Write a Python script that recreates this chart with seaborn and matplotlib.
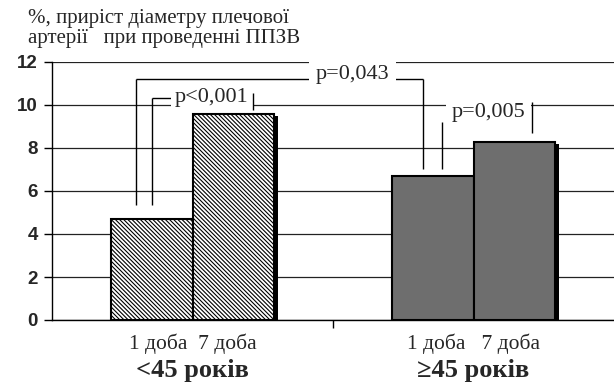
import matplotlib
matplotlib.use("Agg")
import matplotlib.pyplot as plt
import matplotlib.patheffects as pe
from matplotlib.transforms import blended_transform_factory
import pandas as pd
import seaborn as sns

# --- data ---
groups = ["<45 років", "≥45 років"]
days = ["1 доба", "7 доба"]
values_young = [4.7, 9.6]
values_old = [6.7, 8.3]
day_labels = ["1 доба  7 доба", "1 доба   7 доба"]
y_ticks = [0, 2, 4, 6, 8, 10, 12]
title_text = "%, приріст діаметру плечової\nартерії   при проведенні ППЗВ"
p_labels = ["p<0,001", "p=0,043", "p=0,005"]

df = pd.DataFrame({
    "group": [groups[0]] * 2 + [groups[1]] * 2,
    "day": days * 2,
    "value": values_young + values_old,
})

sns.set_theme(style="ticks")
plt.rcParams["font.family"] = ["Liberation Serif", "DejaVu Serif"]
plt.rcParams["hatch.linewidth"] = 0.8

fig = plt.figure(figsize=(6.14, 3.83), dpi=100)
ax = fig.add_axes([52 / 614, 1 - 320 / 383, 1 - 52 / 614, (320 - 62) / 383])

sns.barplot(data=df, x="group", y="value", hue="day", width=0.577,
            errorbar=None, legend=False, edgecolor="black", linewidth=1.5,
            ax=ax, zorder=3)

# style bars: hatched white for first group, grey for second, with shadow
bars = sorted(ax.patches, key=lambda p: p.get_x())
for b in bars:
    grp = int(round(b.get_x() + b.get_width() / 2))
    if grp == 0:
        b.set_facecolor("white")
        b.set_hatch("\\" * 8)
    else:
        b.set_facecolor("#6e6e6e")
    b.set_edgecolor("black")
    b.set_path_effects([pe.SimplePatchShadow(offset=(3, -2), shadow_rgbFace="black", alpha=1),
                        pe.Normal()])

centers = [b.get_x() + b.get_width() / 2 for b in bars]
heights = [b.get_height() for b in bars]
c1, c2, c3, c4 = centers
v1, v2, v3, v4 = heights

ax.set_xlim(-0.5, 1.5)
ax.set_ylim(0, 12)
ax.set_axisbelow(True)
ax.yaxis.grid(True, color="#222222", linewidth=0.9)
sns.despine(ax=ax, top=True, right=True)
for s in ["left", "bottom"]:
    ax.spines[s].set_color("black")
    ax.spines[s].set_linewidth(1.0)

ax.set_yticks(y_ticks)
ax.set_yticklabels([str(t) for t in y_ticks], fontfamily="Liberation Sans",
                   fontweight="bold", fontsize=13.5)
ax.tick_params(axis="y", direction="out", length=6, width=1, color="black", pad=4)

ax.set_xticks([0, 1])
ax.set_xticklabels(day_labels, fontsize=15.5)
ax.set_xticks([0.5], minor=True)
ax.tick_params(axis="x", which="major", length=0, pad=10)
ax.tick_params(axis="x", which="minor", direction="out", length=6, width=1, color="black")
ax.set_xlabel("")
ax.set_ylabel("")

trans = blended_transform_factory(ax.transData, ax.transAxes)
for i, g in enumerate(groups):
    ax.text(i, -0.222, g, transform=trans, ha="center", va="baseline",
            fontsize=19, fontweight="bold")

fig.text(28 / 614, 1 - 9 / 383, title_text, ha="left", va="top",
         fontsize=15, linespacing=1.08)

# significance brackets
lk = dict(color="black", linewidth=1.0, solid_capstyle="butt")

# p<0,001
h1 = 10.33
ax.plot([c1, c1], [v1 + 0.65, h1], zorder=6, **lk)
ax.plot([c1, c2 + 0.07], [h1, h1], zorder=4, **lk)
ax.text(0.069, h1, p_labels[0], ha="center", va="center", fontsize=16,
        bbox=dict(boxstyle="square,pad=0.2", fc="white", ec="none"), zorder=5)
ax.plot([c2 + 0.07, c2 + 0.07], [v2 + 0.17, h1 + 0.23], zorder=6, **lk)

# p=0,043
h2 = 11.2
ax.plot([c1 - 0.057, c1 - 0.057], [v1 + 0.65, h2], zorder=6, **lk)
ax.plot([c1 - 0.057, c3 - 0.036], [h2, h2], zorder=4, **lk)
ax.plot([c3 - 0.036, c3 - 0.036], [v3 + 0.32, h2], zorder=6, **lk)
ax.text(0.568, 11.4, p_labels[1], ha="center", va="center", fontsize=16,
        bbox=dict(boxstyle="square,pad=0.3", fc="white", ec="none"), zorder=5)

# p=0,005
ax.plot([c3 + 0.032, c3 + 0.032], [v3 + 0.32, 9.2], zorder=6, **lk)
ax.text(1.052, 9.67, p_labels[2], ha="center", va="center", fontsize=16,
        bbox=dict(boxstyle="square,pad=0.25", fc="white", ec="none"), zorder=5)
ax.plot([c4 + 0.064, c4 + 0.064], [v4 + 0.4, 10.14], zorder=6, **lk)

fig.savefig("out.png", dpi=100)
